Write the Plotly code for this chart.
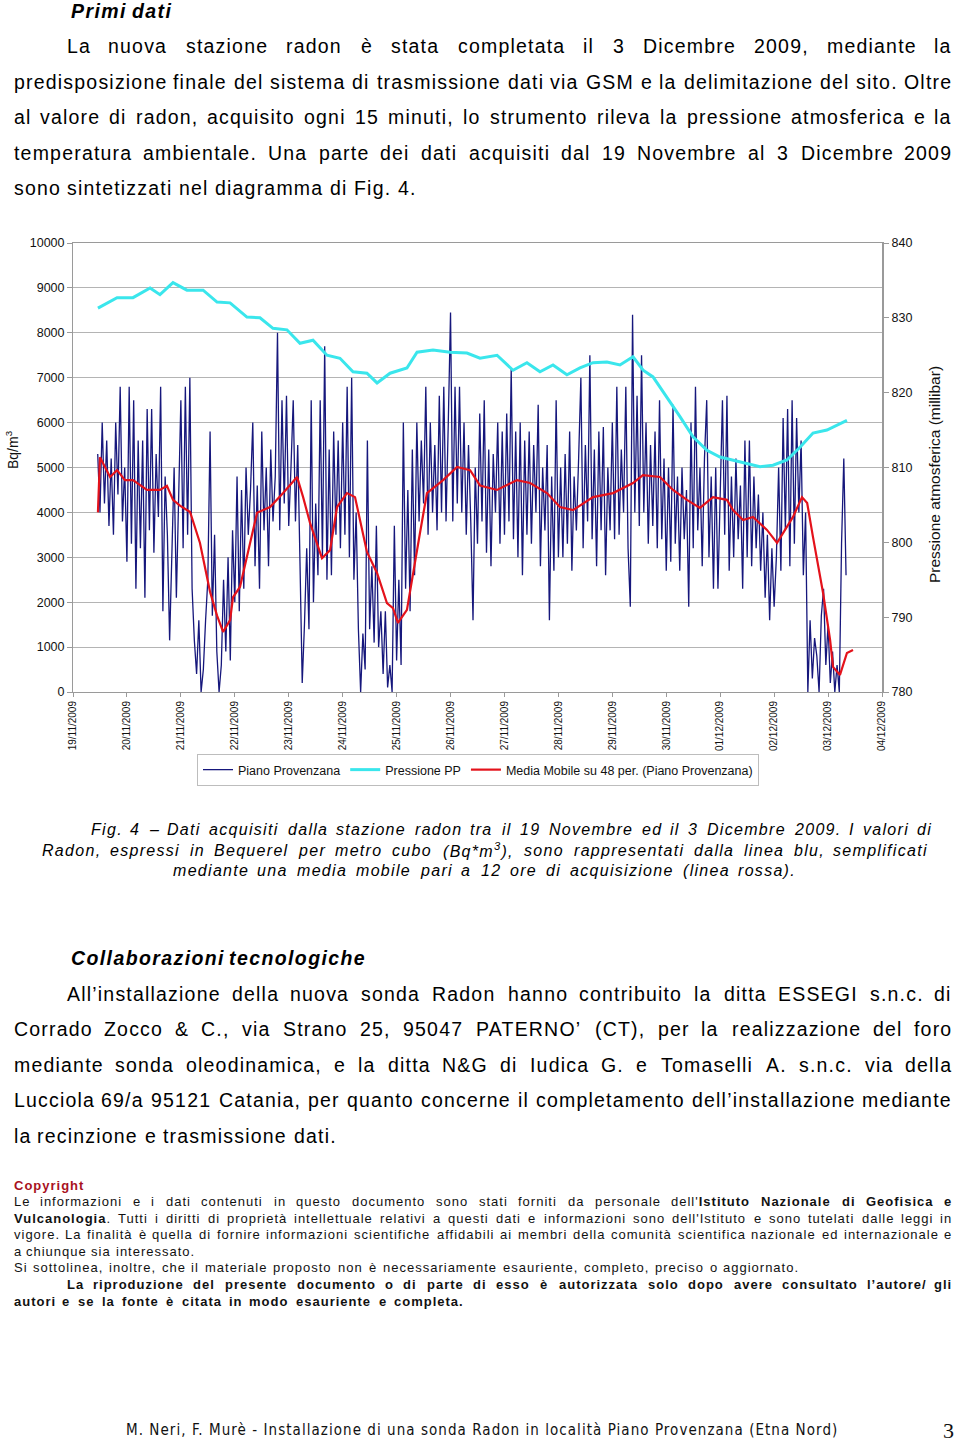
import re
import pandas as pd
import plotly.graph_objects as go

W, H = 960, 1444


def px(x):
    return x / W


def py(y):
    return 1 - y / H


# ---------------- chart data ----------------
radon_start = "2009-11-19 11:00"
radon_values = [
    # 19/11 11:00 -> 21/11 00:00
    5300, 4000, 6000, 4200, 5600, 3700, 5200, 3500, 6000, 4400,
    6800, 3800, 5000, 2900, 6800, 3300, 6500, 2300, 5600, 3200,
    5600, 2100, 6300, 3600, 6300, 3100, 5300, 3900, 6800, 1800,
    4800, 3500, 1150, 3400, 5000, 2100, 4000, 6500,
    # 21/11
    3200, 6800, 3500, 7000, 2300, 1150, 400, 1600, 0, 500, 1600, 2500,
    5800, 1700, 3500, 900, 0, 600, 2500, 900, 3000, 700, 3600, 2000,
    # 22/11
    4800, 1800, 4500, 2300, 5000, 3500, 4500, 6000, 2800, 4600, 2300, 5800,
    3600, 5000, 2800, 5400, 3800, 4800, 8000, 3600, 6500, 4200, 6600, 3700,
    # 23/11
    5000, 6500, 3800, 5500, 2900, 200, 1500, 3200, 1400, 6500, 2000, 4200,
    2600, 6500, 3000, 7700, 2500, 5400, 2600, 5800, 3500, 5600, 3200, 6000,
    # 24/11
    3500, 6800, 3000, 7000, 2500, 4000, 1400, 0, 1300, 500, 5600, 1400,
    2800, 1100, 3700, 1000, 1800, 400, 1800, 100, 600, 0, 3700, 700,
    # 25/11
    2500, 600, 6000, 2300, 4500, 1800, 5400, 2600, 6000, 3800, 5600, 4200,
    6800, 3500, 6000, 4000, 5500, 3600, 6600, 4000, 6800, 3800, 6000, 8450,
    # 26/11
    3800, 6800, 4200, 6800, 4000, 6000, 3500, 5500, 3800, 1600, 5000, 3300,
    6200, 3800, 6500, 3100, 5400, 2800, 5300, 4000, 6000, 3300, 5800, 3500,
    # 27/11
    6200, 3800, 7200, 3400, 5800, 3000, 6000, 2600, 5600, 3500, 5800, 3300,
    5500, 4000, 6400, 2800, 5000, 3600, 5500, 1600, 4800, 2700, 6500, 3000,
    # 28/11
    5000, 3000, 5300, 3300, 5800, 2700, 4800, 3600, 5200, 7000, 3200, 5500,
    3800, 7500, 3400, 5400, 2800, 5800, 3600, 5900, 2600, 5000, 3600, 6000,
    # 29/11
    3400, 6800, 3500, 5400, 4000, 6800, 3200, 1900, 8400, 4000, 6600, 3700,
    7500, 4000, 6000, 3300, 5500, 3700, 5800, 3200, 6500, 3400, 5200, 2700,
    # 30/11
    5000, 2900, 6400, 3300, 4800, 2700, 5000, 3400, 4500, 1900, 6000, 3200,
    6800, 3600, 5000, 2800, 5200, 6500, 3000, 4800, 2300, 5000, 2300, 4500,
    # 01/12
    6500, 3500, 6600, 2700, 4800, 3000, 5200, 3400, 4600, 2300, 5600, 3000,
    5600, 2800, 4800, 3200, 4400, 2700, 4000, 2100, 3500, 1600, 3200, 1900,
    # 02/12
    3000, 5000, 2700, 6100, 3600, 6300, 2800, 6500, 3300, 6100, 4000, 5600,
    2600, 4000, 0, 1600, 300, 1200, 800, 0, 1700, 2300, 600, 1500,
    # 03/12
    200, 900, 0, 600, 0, 3300, 5200, 2600,
]

# hours elapsed since 19/11/2009 00:00
pressure_hours = [
    11.1, 19.6, 26.7, 34.3, 38.7, 44.5, 50.7, 57.9, 64.1, 69.9,
    77.4, 83.2, 89.0, 95.2, 101.0, 106.8, 113.0, 118.8, 124.6, 130.8,
    135.3, 141.1, 148.6, 153.1, 160.2, 167.8, 175.3, 181.1, 188.7, 195.8,
    202.0, 207.8, 213.6, 219.8, 225.6, 231.4, 237.6, 243.4, 249.2, 253.7,
    258.1, 264.3, 270.1, 275.9, 282.1, 287.9, 293.7, 299.9, 305.7, 311.5,
    317.7, 323.5, 329.3, 335.5, 344.4,
]
pressure_values = [
    831.3, 832.7, 832.7, 834.0, 833.1, 834.7, 833.7, 833.7, 832.1, 832.0,
    830.1, 830.0, 828.6, 828.4, 826.6, 827.0, 825.0, 824.6, 822.8, 822.6,
    821.3, 822.6, 823.3, 825.4, 825.7, 825.4, 825.3, 824.6, 825.0, 823.0,
    824.0, 822.8, 823.7, 822.4, 823.3, 824.0, 824.1, 823.7, 824.8, 823.0,
    822.1, 819.4, 816.8, 814.1, 812.3, 811.4, 811.0, 810.6, 810.1, 810.3,
    811.0, 812.7, 814.6, 815.0, 816.3,
]

mavg_hours = [
    11.1, 12.0, 16.5, 19.6, 23.1, 26.7, 32.9, 38.7, 41.8, 44.5,
    47.6, 50.7, 52.1, 56.5, 61.0, 64.1, 66.8, 69.9, 71.2, 74.3,
    77.9, 81.9, 87.7, 93.5, 99.7, 102.4, 105.5, 110.8, 114.4, 117.5,
    121.9, 125.5, 130.8, 135.3, 139.7, 142.4, 144.6, 148.6, 154.4, 157.5,
    164.7, 170.9, 176.7, 181.1, 188.7, 197.6, 203.4, 210.9, 216.7, 222.5,
    231.4, 240.3, 249.2, 253.6, 261.2, 267.0, 273.2, 279.0, 284.8, 291.0,
    293.7, 298.2, 302.6, 308.8, 313.3, 320.4, 324.4, 326.7, 329.3, 333.8,
    336.9, 338.2, 341.3, 344.4, 347.1,
]
mavg_values = [
    4000, 5230, 4790, 4940, 4720, 4720, 4500, 4500, 4590, 4280,
    4150, 4050, 4010, 3320, 2230, 1700, 1340, 1600, 2110, 2340,
    3100, 3990, 4120, 4430, 4790, 4340, 3760, 2980, 3160, 4120,
    4430, 4340, 3120, 2650, 1980, 1870, 1540, 1830, 3540, 4430,
    4720, 5010, 4940, 4600, 4500, 4720, 4655, 4430, 4120, 4050,
    4340, 4430, 4655, 4830, 4790, 4500, 4280, 4100, 4340, 4280,
    4050, 3830, 3900, 3610, 3320, 3900, 4340, 4210, 3450, 2200,
    1160, 560, 380, 870, 935,
]

day_ticks = pd.date_range("2009-11-19", "2009-12-04", freq="D")
day_labels = [d.strftime("%d/%m/%Y") for d in day_ticks]

series_names = ["Piano Provenzana", "Pressione PP",
                "Media Mobile su 48 per. (Piano Provenzana)"]

origin = pd.Timestamp("2009-11-19")
radon_x = pd.date_range(radon_start, periods=len(radon_values), freq="60min")
pressure_x = origin + pd.to_timedelta(pressure_hours, unit="h")
mavg_x = origin + pd.to_timedelta(mavg_hours, unit="h")

FONT = "Liberation Sans, Arial, Helvetica, sans-serif"

fig = go.Figure()
fig.add_trace(go.Scatter(x=radon_x, y=radon_values, mode="lines", name=series_names[0],
                         line=dict(color="#16177c", width=1.3)))
fig.add_trace(go.Scatter(x=pressure_x, y=pressure_values, mode="lines", name=series_names[1],
                         yaxis="y2", line=dict(color="#3ae6ec", width=3)))
fig.add_trace(go.Scatter(x=mavg_x, y=mavg_values, mode="lines", name=series_names[2],
                         line=dict(color="#e4121b", width=2.2)))

# ---------------- page text ----------------
ARIAL = {
    ' ': 278, '!': 278, '"': 355, '&': 667, "'": 191, '(': 333, ')': 333, '*': 389,
    ',': 278, '-': 333, '.': 278, '/': 278, ':': 278, ';': 278, '’': 222, '–': 556,
    'A': 667, 'B': 667, 'C': 722, 'D': 722, 'E': 667, 'F': 611, 'G': 778, 'H': 722,
    'I': 278, 'J': 500, 'K': 667, 'L': 556, 'M': 833, 'N': 722, 'O': 778, 'P': 667,
    'Q': 778, 'R': 722, 'S': 667, 'T': 611, 'U': 722, 'V': 667, 'W': 944, 'X': 667,
    'Y': 667, 'Z': 611,
    'a': 556, 'b': 556, 'c': 500, 'd': 556, 'e': 556, 'f': 278, 'g': 556, 'h': 556,
    'i': 222, 'j': 222, 'k': 500, 'l': 222, 'm': 833, 'n': 556, 'o': 556, 'p': 556,
    'q': 556, 'r': 333, 's': 500, 't': 278, 'u': 556, 'v': 500, 'w': 722, 'x': 500,
    'y': 500, 'z': 500, 'è': 556, 'à': 556, 'é': 556, 'ì': 222, 'ò': 556, 'ù': 556,
}
TAG = re.compile(r"<[^>]+>")
annotations = []


def units(s):
    return sum(ARIAL.get(c, 556) for c in s)


def add_line(text, y, L, R=None, fs=19.5, ls=1.2, style="", color="#000000",
             family=FONT, wmul=1.0):
    words = text.split(" ")
    plains = [TAG.sub("", w) for w in words]
    widths = []
    for wh, p in zip(words, plains):
        m = wmul * (1.08 if ("b" in style or "<b>" in wh) else 1.0)
        widths.append(units(p) * fs / 1000 * m + ls * len(p))
    n = len(words)
    if R is not None and n > 1:
        gap = (R - L - sum(widths)) / (n - 1)
    else:
        gap = 278 * fs / 1000 * wmul + ls
    x = L
    for i, (wh, wd) in enumerate(zip(words, widths)):
        html = f'<span style="letter-spacing:{ls}px">{wh}</span>'
        if "b" in style:
            html = f"<b>{html}</b>"
        if "i" in style:
            html = f"<i>{html}</i>"
        if i == 0:
            xa, xx = "left", x
        elif R is not None and i == n - 1:
            xa, xx = "right", R
        else:
            xa, xx = "center", x + wd / 2
        annotations.append(dict(text=html, x=px(xx), y=py(y), xref="paper", yref="paper",
                                xanchor=xa, yanchor="middle", showarrow=False, borderpad=0,
                                font=dict(size=fs, color=color, family=family)))
        x += wd + gap


add_line("Primi dati", 11, 70, None, fs=19.5, ls=1.4, style="bi")
body = [
    ("La nuova stazione radon è stata completata il 3 Dicembre 2009, mediante la", 46, 66, 953),
    ("predisposizione finale del sistema di trasmissione dati via GSM e la delimitazione del sito. Oltre", 82, 13, 953),
    ("al valore di radon, acquisito ogni 15 minuti, lo strumento rileva la pressione atmosferica e la", 117, 13, 953),
    ("temperatura ambientale. Una parte dei dati acquisiti dal 19 Novembre al 3 Dicembre 2009", 153, 13, 953),
    ("sono sintetizzati nel diagramma di Fig. 4.", 188, 13, None),
]
for t, y, L, R in body:
    add_line(t, y, L, R)

caption = [
    ("Fig. 4 – Dati acquisiti dalla stazione radon tra il 19 Novembre ed il 3 Dicembre 2009. I valori di", 829, 90, 933),
    ("Radon, espressi in Bequerel per metro cubo (Bq*m<sup>3</sup>), sono rappresentati dalla linea blu, semplificati", 850, 41, 929),
    ("mediante una media mobile pari a 12 ore di acquisizione (linea rossa).", 871, 172, 797),
]
for t, y, L, R in caption:
    add_line(t, y, L, R, fs=16, ls=1.3, style="i")

add_line("Collaborazioni tecnologiche", 958, 70, None, fs=19.5, ls=1.4, style="bi")
collab = [
    ("All’installazione della nuova sonda Radon hanno contribuito la ditta ESSEGI s.n.c. di", 994, 66, 953),
    ("Corrado Zocco & C., via Strano 25, 95047 PATERNO’ (CT), per la realizzazione del foro", 1029, 13, 953),
    ("mediante sonda oleodinamica, e la ditta N&G di Iudica G. e Tomaselli A. s.n.c. via della", 1065, 13, 953),
    ("Lucciola 69/a 95121 Catania, per quanto concerne il completamento dell’installazione mediante", 1100, 13, 953),
    ("la recinzione e trasmissione dati.", 1136, 13, None),
]
for t, y, L, R in collab:
    add_line(t, y, L, R)

add_line("Copyright", 1185, 13, None, fs=13, ls=1.0, style="b", color="#a8121e")
footer = [
    ("Le informazioni e i dati contenuti in questo documento sono stati forniti da personale dell'<b>Istituto</b> <b>Nazionale</b> <b>di</b> <b>Geofisica</b> <b>e</b>", 1201, 13, 953, ""),
    ("<b>Vulcanologia</b>. Tutti i diritti di proprietà intellettuale relativi a questi dati e informazioni sono dell'Istituto e sono tutelati dalle leggi in", 1218, 13, 953, ""),
    ("vigore. La finalità è quella di fornire informazioni scientifiche affidabili ai membri della comunità scientifica nazionale ed internazionale e", 1234, 13, 953, ""),
    ("a chiunque sia interessato.", 1251, 13, None, ""),
    ("Si sottolinea, inoltre, che il materiale proposto non è necessariamente esauriente, completo, preciso o aggiornato.", 1267, 13, 800, ""),
    ("La riproduzione del presente documento o di parte di esso è autorizzata solo dopo avere consultato l’autore/ gli", 1284, 66, 953, "b"),
    ("autori e se la fonte è citata in modo esauriente e completa.", 1301, 13, 465, "b"),
]
for t, y, L, R, st in footer:
    add_line(t, y, L, R, fs=13, ls=1.0, style=st, color="#111111")

annotations.append(dict(
    text='<span style="letter-spacing:1.05px">M. Neri, F. Murè - Installazione di una sonda Radon '
         'in località Piano Provenzana (Etna Nord)</span>',
    x=px(482.5), y=py(1430), xref="paper", yref="paper", xanchor="center", yanchor="middle",
    showarrow=False, borderpad=0,
    font=dict(size=15, color="#111111",
              family="Liberation Sans Narrow, Arial Narrow, DejaVu Sans Condensed, sans-serif")))
annotations.append(dict(text="3", x=px(948), y=py(1430), xref="paper", yref="paper", xanchor="center",
                        yanchor="middle", showarrow=False, borderpad=0,
                        font=dict(size=22, family="Liberation Serif, Times New Roman, serif", color="#111111")))

# axis titles
annotations.append(dict(text="Bq/m<sup>3</sup>", x=px(12), y=py(450), xref="paper", yref="paper",
                        textangle=-90, showarrow=False, xanchor="center", yanchor="middle",
                        font=dict(size=14, family=FONT, color="#111111")))
annotations.append(dict(text="Pressione atmosferica (millibar)", x=px(934), y=py(475), xref="paper",
                        yref="paper", textangle=-90, showarrow=False, xanchor="center", yanchor="middle",
                        font=dict(size=15.5, family=FONT, color="#111111")))

AX = "#9a9a9a"
fig.update_layout(
    width=W, height=H, autosize=False,
    margin=dict(l=0, r=0, t=0, b=0, autoexpand=False),
    paper_bgcolor="white", plot_bgcolor="white",
    font=dict(family=FONT, color="#111111"),
    showlegend=True,
    legend=dict(orientation="h", x=px(478), y=py(770), xanchor="center", yanchor="middle",
                bordercolor="#bdbdbd", borderwidth=1, bgcolor="white",
                font=dict(size=12.5, family=FONT, color="#111111"), traceorder="normal"),
    xaxis=dict(domain=[px(73), px(882)], type="date", range=[day_ticks[0], day_ticks[-1]],
               tickvals=list(day_ticks), ticktext=day_labels, tickangle=-90,
               tickfont=dict(size=10, family=FONT, color="#111111"), showgrid=False,
               showline=True, linecolor=AX, mirror=True, ticks="outside", ticklen=4,
               tickcolor=AX, anchor="y", fixedrange=True),
    yaxis=dict(domain=[py(692), py(243)], range=[0, 10000], tick0=0, dtick=1000,
               tickformat="d",
               gridcolor="#b4b4b4", gridwidth=1, showline=True, linecolor=AX, ticks="outside",
               ticklen=5, tickcolor=AX, tickfont=dict(size=12.5, family=FONT, color="#111111"),
               zeroline=False, anchor="x"),
    yaxis2=dict(overlaying="y", side="right", range=[780, 840], tick0=780, dtick=10,
                tickformat="d",
                showgrid=False, showline=True, linecolor=AX, linewidth=2, ticks="outside",
                ticklen=5, tickcolor=AX, tickfont=dict(size=12.5, family=FONT, color="#111111"),
                zeroline=False, anchor="x"),
    annotations=annotations,
)

fig.write_html("out.html", config={"displayModeBar": False},
               post_script="document.body.style.margin='0';document.body.style.padding='0';")
